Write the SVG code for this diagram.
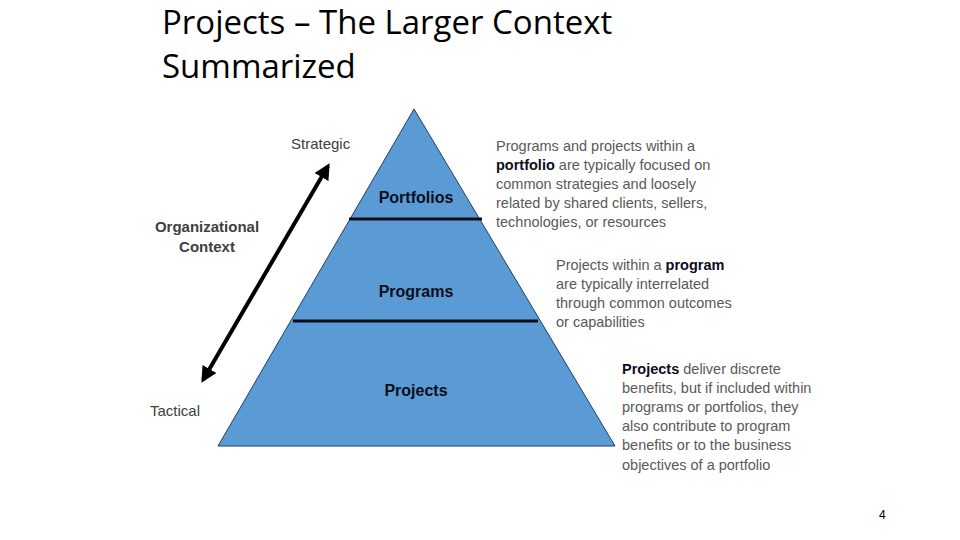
<svg xmlns="http://www.w3.org/2000/svg" width="960" height="540" viewBox="0 0 960 540">
<style>
.t{font-family:"Liberation Sans",Arial,sans-serif;font-size:15px;fill:#404040}
.b{font-weight:bold}
.p{font-family:"Liberation Sans",Arial,sans-serif;font-size:16px;font-weight:bold;fill:#0d0d1a;text-anchor:middle}
.d{font-family:"Liberation Sans",Arial,sans-serif;font-size:14.5px;fill:#595959}
.d tspan.k{font-weight:bold;fill:#0d0d1a}
</style>
<defs><marker id="ah" viewBox="0 0 10 10" refX="8" refY="5" markerWidth="4" markerHeight="4" orient="auto-start-reverse"><path d="M0,0L10,5L0,10z" fill="#000"/></marker></defs>
<rect width="960" height="540" fill="#fff"/>
<text x="162" y="34" font-family="Open Sans,'Liberation Sans',sans-serif" font-size="33" fill="#000">Projects – The Larger Context</text>
<text x="162" y="78" font-family="Open Sans,'Liberation Sans',sans-serif" font-size="33" fill="#000">Summarized</text>
<g id="pyramid">
<polygon points="414,109 615,446 218,446" fill="#5B9BD5" stroke="#1f3f66" stroke-width="1"/>
<line x1="349" y1="219" x2="482" y2="219" stroke="#0d0d1a" stroke-width="3"/>
<line x1="293" y1="321" x2="538" y2="321" stroke="#0d0d1a" stroke-width="3"/>
<text class="p" x="416" y="203">Portfolios</text>
<text class="p" x="416" y="297">Programs</text>
<text class="p" x="416" y="396">Projects</text>
</g>
<g id="connectors"><line x1="328" y1="166" x2="203" y2="380" stroke="#000" stroke-width="4" marker-start="url(#ah)" marker-end="url(#ah)"/></g>
<g id="labels">
<text class="t" x="291" y="149">Strategic</text>
<text class="t b" x="207" y="232" text-anchor="middle">Organizational</text>
<text class="t b" x="207" y="252" text-anchor="middle">Context</text>
<text class="t" x="150" y="416">Tactical</text>
</g>
<g id="desc">
<text class="d" x="496" y="151">Programs and projects within a</text>
<text class="d" x="496" y="170"><tspan class="k">portfolio</tspan> are typically focused on</text>
<text class="d" x="496" y="189">common strategies and loosely</text>
<text class="d" x="496" y="208">related by shared clients, sellers,</text>
<text class="d" x="496" y="227">technologies, or resources</text>
<text class="d" x="556" y="270">Projects within a <tspan class="k">program</tspan></text>
<text class="d" x="556" y="289">are typically interrelated</text>
<text class="d" x="556" y="308">through common outcomes</text>
<text class="d" x="556" y="327">or capabilities</text>
<text class="d" x="622" y="374"><tspan class="k">Projects</tspan> deliver discrete</text>
<text class="d" x="622" y="393">benefits, but if included within</text>
<text class="d" x="622" y="412">programs or portfolios, they</text>
<text class="d" x="622" y="431">also contribute to program</text>
<text class="d" x="622" y="450">benefits or to the business</text>
<text class="d" x="622" y="470">objectives of a portfolio</text>
</g>
<text x="879" y="519" font-family="Liberation Sans,sans-serif" font-size="12" fill="#000">4</text>
</svg>
